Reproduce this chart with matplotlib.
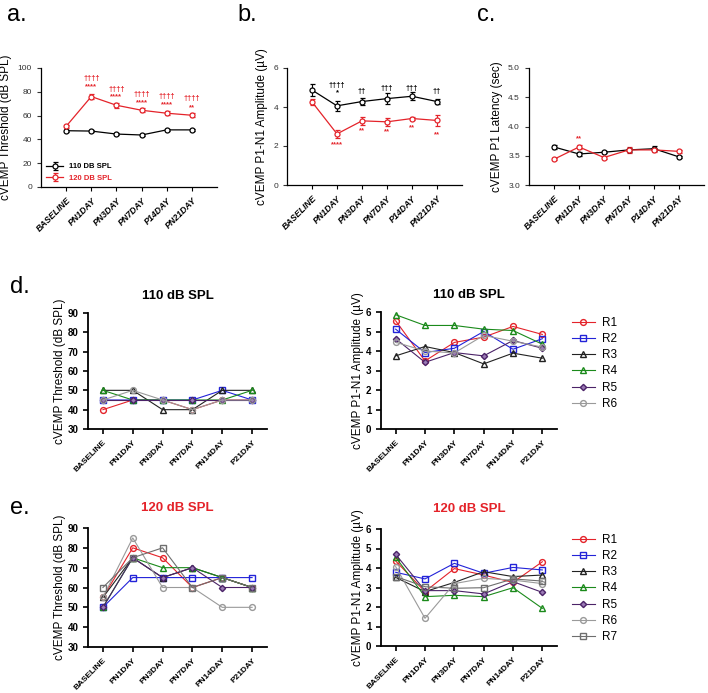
import matplotlib
matplotlib.use("Agg")
import matplotlib.pyplot as plt
import numpy as np

plt.rcParams['font.family'] = ['Liberation Sans', 'DejaVu Sans']

# ---- data ----
days_top = ['BASELINE', 'PN1DAY', 'PN3DAY', 'PN7DAY', 'P14DAY', 'PN21DAY']
days_ind = ['BASELINE', 'PN1DAY', 'PN3DAY', 'PN7DAY', 'PN14DAY', 'P21DAY']

thr_110 = [47.3, 47.0, 44.5, 43.7, 48.0, 48.0]
thr_110_sem = [1.0, 1.0, 1.0, 1.0, 1.0, 1.0]
thr_120 = [51.0, 76.0, 68.7, 64.5, 62.0, 60.3]
thr_120_sem = [1.5, 2.0, 2.0, 1.5, 1.5, 1.5]

amp_110 = [4.87, 4.06, 4.28, 4.43, 4.55, 4.28]
amp_110_sem = [0.30, 0.25, 0.20, 0.30, 0.20, 0.15]
amp_120 = [4.26, 2.62, 3.29, 3.24, 3.41, 3.31]
amp_120_sem = [0.15, 0.20, 0.20, 0.20, 0.08, 0.30]

lat_110 = [3.65, 3.53, 3.56, 3.60, 3.62, 3.48]
lat_110_sem = [0.03, 0.04, 0.02, 0.03, 0.04, 0.02]
lat_120 = [3.44, 3.65, 3.47, 3.60, 3.60, 3.575]
lat_120_sem = [0.02, 0.03, 0.02, 0.05, 0.03, 0.02]

rats6 = ['R1', 'R2', 'R3', 'R4', 'R5', 'R6']
rats7 = ['R1', 'R2', 'R3', 'R4', 'R5', 'R6', 'R7']

d_thr = [
    [40, 45, 45, 40, 45, 45],
    [45, 45, 45, 45, 50, 45],
    [50, 50, 40, 40, 50, 50],
    [50, 45, 45, 45, 45, 50],
    [45, 45, 45, 45, 45, 45],
    [45, 50, 45, 40, 45, 45],
]
d_amp = [
    [5.55, 3.49, 4.44, 4.71, 5.26, 4.85],
    [5.12, 3.92, 4.14, 5.00, 4.09, 4.63],
    [3.75, 4.23, 3.92, 3.34, 3.89, 3.63],
    [5.86, 5.31, 5.31, 5.12, 5.05, 4.35],
    [4.63, 3.42, 3.92, 3.75, 4.54, 4.14],
    [4.45, 4.00, 3.90, 4.80, 4.50, 4.20],
]
e_thr = [
    [55, 80, 75, 60, 65, 60],
    [50, 65, 65, 65, 65, 65],
    [55, 75, 65, 70, 65, 60],
    [50, 75, 70, 70, 65, 60],
    [50, 75, 65, 70, 60, 60],
    [55, 85, 60, 60, 50, 50],
    [60, 75, 80, 60, 65, 60],
]
e_amp = [
    [4.36, 2.79, 3.97, 3.64, 3.26, 4.32],
    [3.78, 3.44, 4.24, 3.73, 4.03, 3.90],
    [3.52, 2.79, 3.26, 3.81, 3.56, 3.64],
    [4.55, 2.53, 2.60, 2.53, 2.99, 1.93],
    [4.70, 2.84, 2.84, 2.67, 3.30, 2.75],
    [4.07, 1.42, 3.20, 3.47, 3.38, 3.20],
    [3.56, 3.04, 2.96, 2.99, 3.44, 3.33],
]

RED = '#e4232a'
rat_colors = [RED, '#2323d8', '#222222', '#1b8a1b', '#4b2368', '#9a9a9a', '#6e6e6e']
rat_markers = ['o', 's', '^', '^', 'D', 'o', 's']
rat_faces = ['none', 'none', 'none', 'none', '#9b7bb5', 'none', 'none']
rat_msize = [4.2, 4.2, 4.2, 4.2, 3.2, 4.2, 4.2]

W, H = 708, 693
fig = plt.figure(figsize=(W / 100, H / 100), dpi=100)


def add_ax(left, right, top, bottom):
    return fig.add_axes([left / W, 1 - bottom / H, (right - left) / W, (bottom - top) / H])


def style_top(ax, labels):
    ax.spines['top'].set_visible(False)
    ax.spines['right'].set_visible(False)
    ax.set_xlim(-1, 6)
    ax.set_xticks(range(6))
    ax.set_xticklabels(labels, rotation=45, ha='right', rotation_mode='anchor',
                       fontsize=6.3, fontweight='bold', style='italic')
    ax.tick_params(axis='y', labelsize=6, colors='#333333', length=3, width=0.8)
    ax.tick_params(axis='x', length=3, width=0.8)
    for s in ['left', 'bottom']:
        ax.spines[s].set_linewidth(0.9)


def plot_group(ax, vals, sem, color, label=None):
    ax.errorbar(range(6), vals, yerr=sem, color=color, marker='o', ms=3.6,
                mfc='white', mec=color, mew=0.9, lw=0.9, capsize=1.8,
                elinewidth=0.8, label=label)


# ---- a ----
ax = add_ax(41, 217, 68, 187)
plot_group(ax, thr_110, thr_110_sem, 'black', '110 DB SPL')
plot_group(ax, thr_120, thr_120_sem, RED, '120 DB SPL')
ax.set_ylim(0, 100)
ax.set_yticks(range(0, 101, 20))
style_top(ax, days_top)
ax.set_ylabel('cVEMP Threshold (dB SPL)', fontsize=8.5, labelpad=4)
dag_a = [91, 82, 78, 76, 74]
star_a = [84, 76, 71, 69, 67]
stars_a = ['****', '****', '****', '****', '**']
for i in range(5):
    ax.text(i + 1, dag_a[i], '††††', color=RED, fontsize=5.5, fontweight='bold', ha='center', va='center')
    ax.text(i + 1, star_a[i], stars_a[i], color=RED, fontsize=5.5, fontweight='bold', ha='center', va='center')
leg = ax.legend(loc='lower left', frameon=False, handlelength=2.2,
                labelspacing=0.5, borderaxespad=0.3, prop={'weight': 'bold', 'size': 5.5})
for t, c in zip(leg.get_texts(), ['black', RED]):
    t.set_color(c)
fig.text(7 / W, 1 - 15 / H, 'a.', fontsize=17, va='center')

# ---- b ----
ax = add_ax(287, 462, 68, 185)
plot_group(ax, amp_110, amp_110_sem, 'black')
plot_group(ax, amp_120, amp_120_sem, RED)
ax.set_ylim(0, 6)
ax.set_yticks([0, 2, 4, 6])
style_top(ax, days_top)
ax.set_ylabel('cVEMP P1-N1 Amplitude (µV)', fontsize=8.5, labelpad=4)
dag_b = ['††††', '††', '†††', '†††', '††']
dag_b_y = [5.08, 4.78, 4.93, 4.93, 4.78]
red_b = ['****', '**', '**', '**', '**']
red_b_y = [2.06, 2.78, 2.72, 2.93, 2.59]
for i in range(5):
    ax.text(i + 1, dag_b_y[i], dag_b[i], color='black', fontsize=5.5, fontweight='bold', ha='center', va='center')
    ax.text(i + 1, red_b_y[i], red_b[i], color=RED, fontsize=5.5, fontweight='bold', ha='center', va='center')
ax.text(1, 4.72, '*', color='black', fontsize=5.5, fontweight='bold', ha='center', va='center')
fig.text(237 / W, 1 - 15 / H, 'b.', fontsize=17, va='center')

# ---- c ----
ax = add_ax(529, 704, 68, 185)
plot_group(ax, lat_110, lat_110_sem, 'black')
plot_group(ax, lat_120, lat_120_sem, RED)
ax.set_ylim(3.0, 5.0)
ax.set_yticks([3.0, 3.5, 4.0, 4.5, 5.0])
ax.set_yticklabels(['3.0', '3.5', '4.0', '4.5', '5.0'])
style_top(ax, days_top)
ax.set_ylabel('cVEMP P1 Latency (sec)', fontsize=8.5, labelpad=4)
ax.text(1, 3.79, '**', color=RED, fontsize=5.5, fontweight='bold', ha='center', va='center')
fig.text(477 / W, 1 - 15 / H, 'c.', fontsize=17, va='center')


# ---- d / e ----
def style_ind(ax, ylim, yticks, ylabel):
    ax.spines['top'].set_visible(False)
    ax.spines['right'].set_visible(False)
    for s in ['left', 'bottom']:
        ax.spines[s].set_linewidth(1.3)
    ax.set_xlim(-0.5, 5.5)
    ax.set_xticks(range(6))
    ax.set_xticklabels(days_ind, rotation=45, ha='right', rotation_mode='anchor',
                       fontsize=6, fontweight='bold')
    ax.set_ylim(*ylim)
    ax.set_yticks(yticks)
    for lab in ax.get_yticklabels():
        lab.set_fontweight('bold')
        lab.set_fontsize(7)
    ax.tick_params(length=3.5, width=1.2)
    ax.set_ylabel(ylabel, fontsize=8.5, labelpad=1)


def plot_rats(ax, data, names):
    for i, (vals, name) in enumerate(zip(data, names)):
        ax.plot(range(6), vals, color=rat_colors[i], marker=rat_markers[i], ms=rat_msize[i],
                mfc=rat_faces[i], mec=rat_colors[i], mew=1.0, lw=0.8, label=name)


def rat_legend(ax):
    ax.legend(loc='upper left', bbox_to_anchor=(1.06, 1.0), frameon=False, fontsize=8.5,
              handlelength=1.9, handletextpad=0.6, labelspacing=0.36, borderaxespad=0)


ax = add_ax(88, 267, 313, 429)
plot_rats(ax, d_thr, rats6)
style_ind(ax, (30, 90), range(30, 91, 10), 'cVEMP Threshold (dB SPL)')
ax.set_title('110 dB SPL', fontsize=9.5, fontweight='bold', pad=10)
fig.text(10 / W, 1 - 287 / H, 'd.', fontsize=17, va='center')

ax = add_ax(381, 557, 312, 429)
plot_rats(ax, d_amp, rats6)
style_ind(ax, (0, 6), range(0, 7), 'cVEMP P1-N1 Amplitude (µV)')
ax.set_title('110 dB SPL', fontsize=9.5, fontweight='bold', pad=10)
rat_legend(ax)

ax = add_ax(88, 527 - 260, 528, 647)
plot_rats(ax, e_thr, rats7)
style_ind(ax, (30, 90), range(30, 91, 10), 'cVEMP Threshold (dB SPL)')
ax.set_title('120 dB SPL', fontsize=9.5, fontweight='bold', color=RED, pad=12)
fig.text(10 / W, 1 - 508 / H, 'e.', fontsize=17, va='center')

ax = add_ax(381, 557, 529, 646)
plot_rats(ax, e_amp, rats7)
style_ind(ax, (0, 6), range(0, 7), 'cVEMP P1-N1 Amplitude (µV)')
ax.set_title('120 dB SPL', fontsize=9.5, fontweight='bold', color=RED, pad=12)
rat_legend(ax)

fig.savefig('out.png', dpi=100)
